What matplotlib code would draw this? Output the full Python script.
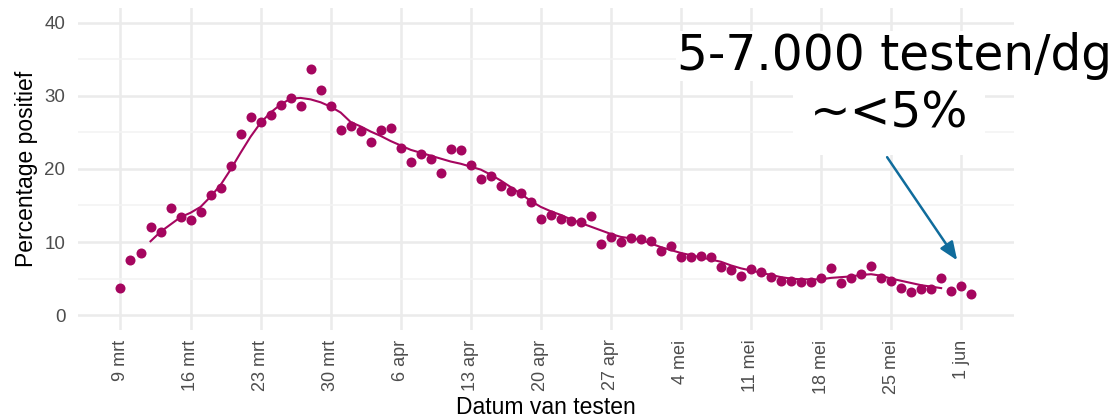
import matplotlib
matplotlib.use('Agg')
import matplotlib.pyplot as plt
import pandas as pd

# Dagelijks percentage positieve testen, vanaf 9 maart 2020
start_datum = '2020-03-09'
pct_positief = [3.7, 7.5, 8.5, 12.0, 11.4, 14.7, 13.4, 13.0, 14.1, 16.4,
                17.4, 20.4, 24.7, 27.1, 26.4, 27.4, 28.8, 29.7, 28.6, 33.6,
                30.8, 28.6, 25.3, 25.8, 25.2, 23.7, 25.3, 25.6, 22.9, 21.0,
                22.1, 21.4, 19.5, 22.7, 22.6, 20.5, 18.6, 19.0, 17.7, 17.0,
                16.7, 15.5, 13.2, 13.7, 13.2, 12.9, 12.7, 13.6, 9.7, 10.7,
                10.0, 10.5, 10.4, 10.1, 8.8, 9.5, 7.9, 7.9, 8.1, 7.9,
                6.6, 6.2, 5.3, 6.3, 5.9, 5.2, 4.7, 4.7, 4.5, 4.5,
                5.1, 6.4, 4.4, 5.1, 5.6, 6.7, 5.1, 4.7, 3.7, 3.2,
                3.6, 3.6, 5.1, 3.3, 4.0, 2.9]

trend_start = 3
trend = [10.1, 11.4, 12.4, 13.4, 14.0, 14.8, 16.2, 17.8, 19.9, 22.2,
         24.4, 26.3, 27.7, 28.8, 29.6, 29.7, 29.5, 29.1, 28.5, 27.7,
         26.4, 25.8, 25.1, 24.5, 23.8, 23.2, 22.6, 22.2, 21.8, 21.4,
         21.0, 20.7, 20.3, 19.9, 19.2, 18.4, 17.5, 16.6, 15.6, 14.8,
         14.2, 13.7, 13.1, 12.6, 12.1, 11.6, 11.1, 10.7, 10.5, 10.3,
         9.8, 9.3, 8.9, 8.5, 8.2, 7.9, 7.6, 7.3, 6.8, 6.4,
         6.1, 5.8, 5.5, 5.2, 5.0, 4.9, 4.9, 4.9, 5.1, 5.2,
         5.3, 5.5, 5.6, 5.4, 5.0, 4.7, 4.4, 4.1, 3.9, 3.7]

tick_labels = ['9 mrt', '16 mrt', '23 mrt', '30 mrt', '6 apr', '13 apr',
               '20 apr', '27 apr', '4 mei', '11 mei', '18 mei', '25 mei', '1 jun']

dates = pd.date_range(start_datum, periods=len(pct_positief), freq='D')
trend_dates = dates[trend_start:trend_start + len(trend)]
tick_dates = pd.date_range(start_datum, periods=len(tick_labels), freq='7D')

kleur = '#A5065F'
plt.rcParams['font.family'] = ['Liberation Sans', 'DejaVu Sans']

fig = plt.figure(figsize=(11.2, 4.18), dpi=100)
ax = fig.add_axes([0.0696, 0.211, 0.8355, 0.770])

# Grid like ggplot theme_minimal
ax.set_yticks([0, 10, 20, 30, 40])
ax.set_yticks([5, 15, 25, 35], minor=True)
ax.set_xticks(tick_dates)
ax.set_xticklabels(tick_labels, rotation=90)
ax.grid(which='major', color='#EBEBEB', lw=1.8)
ax.grid(which='minor', axis='y', color='#F3F3F3', lw=1.1)
ax.set_axisbelow(True)
for s in ax.spines.values():
    s.set_visible(False)
ax.tick_params(which='both', length=0)
ax.tick_params(axis='y', pad=9, labelsize=13.5, labelcolor='#4D4D4D')
ax.tick_params(axis='x', pad=7, labelsize=13, labelcolor='#4D4D4D')

ax.scatter(dates, pct_positief, s=52, color=kleur, zorder=3, linewidths=0)
ax.plot(trend_dates, trend, color=kleur, lw=1.5, zorder=3)

span = dates[-1] - dates[0]
ax.set_xlim(dates[0] - span * 0.05, dates[-1] + span * 0.05)
ax.set_ylim(-2.0, 42.0)

ax.set_ylabel('Percentage positief', fontsize=16.5, labelpad=5)
ax.set_xlabel('Datum van testen', fontsize=16.5, labelpad=2)

# Annotatie
ax.annotate('', xy=(dates[0] + pd.Timedelta(days=83.6), 7.5),
            xytext=(dates[0] + pd.Timedelta(days=76.6), 21.6),
            arrowprops=dict(arrowstyle='-|>,head_length=1.1,head_width=0.45',
                            color='#106C9C', lw=1.8, shrinkA=0, shrinkB=0))
fig.text(0.799, 0.8325, '5-7.000 testen/dg', fontsize=35, family='DejaVu Sans',
         ha='center', va='baseline', color='black',
         bbox=dict(facecolor='white', edgecolor='none', pad=1))
fig.text(0.794, 0.694, '~<5%', fontsize=35, family='DejaVu Sans',
         ha='center', va='baseline', color='black',
         bbox=dict(facecolor='white', edgecolor='none', boxstyle='square,pad=0.35'))

fig.savefig('out.png', dpi=100)
